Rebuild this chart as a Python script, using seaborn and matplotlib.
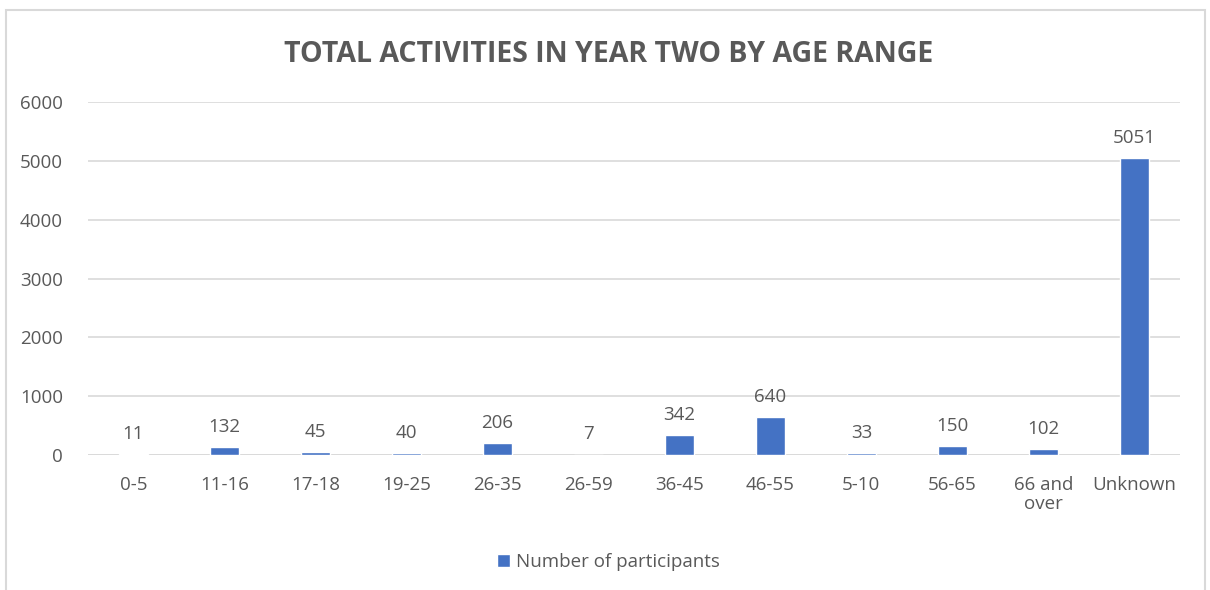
import matplotlib
matplotlib.use("Agg")
import matplotlib.pyplot as plt
import seaborn as sns
import pandas as pd
from matplotlib.patches import Rectangle, Patch

categories = ["0-5", "11-16", "17-18", "19-25", "26-35", "26-59", "36-45",
              "46-55", "5-10", "56-65", "66 and\nover", "Unknown"]
values = [11, 132, 45, 40, 206, 7, 342, 640, 33, 150, 102, 5051]
series_name = "Number of participants"
title = "TOTAL ACTIVITIES IN YEAR TWO BY AGE RANGE"
yticks = [0, 1000, 2000, 3000, 4000, 5000, 6000]

sns.set_theme(style="white")
plt.rcParams['font.family'] = ['Open Sans', 'DejaVu Sans']
text_color = "#595959"
bar_color = "#4472C4"
grid_color = "#D9D9D9"

df = pd.DataFrame({"cat": categories, "val": values})

fig = plt.figure(figsize=(12.1, 5.9), dpi=100)
ax = fig.add_axes([0.0727, 0.2288, 0.9023, 0.5983])

sns.barplot(data=df, x="cat", y="val", color=bar_color, width=0.32,
            saturation=1, ax=ax, zorder=3)

ax.set_ylim(0, 6000)
ax.set_yticks(yticks)
ax.set_xlim(-0.5, len(categories) - 0.5)
ax.yaxis.grid(True, color=grid_color, linewidth=1.2, zorder=0)
ax.xaxis.grid(False)
for s in ax.spines.values():
    s.set_visible(False)
ax.axhline(0, color=grid_color, linewidth=1.2, zorder=1)
ax.set_xlabel("")
ax.set_ylabel("")
ax.tick_params(axis="both", length=0, labelsize=13.5, colors=text_color)
ax.tick_params(axis="x", pad=15)
ax.tick_params(axis="y", pad=18)
for lbl in ax.get_xticklabels():
    lbl.set_linespacing(1.1)

for cont in ax.containers:
    ax.bar_label(cont, labels=[str(v) for v in values], padding=8,
                 fontsize=13.5, color=text_color)

fig.text(0.503, 0.908, title, ha="center", va="center", fontsize=20.5,
         fontweight="bold", color=text_color)

handles = [Patch(facecolor=bar_color, label=series_name)]
fig.legend(handles=handles, loc="center", bbox_to_anchor=(0.503, 0.047),
           frameon=False, fontsize=13.5, labelcolor=text_color,
           handlelength=0.65, handleheight=0.65, handletextpad=0.35)

fig.patches.append(Rectangle((0.005, -0.02), 0.991, 1.003, transform=fig.transFigure,
                             fill=False, edgecolor=grid_color, linewidth=1.5))

fig.savefig("out.png", dpi=100, facecolor="white")
